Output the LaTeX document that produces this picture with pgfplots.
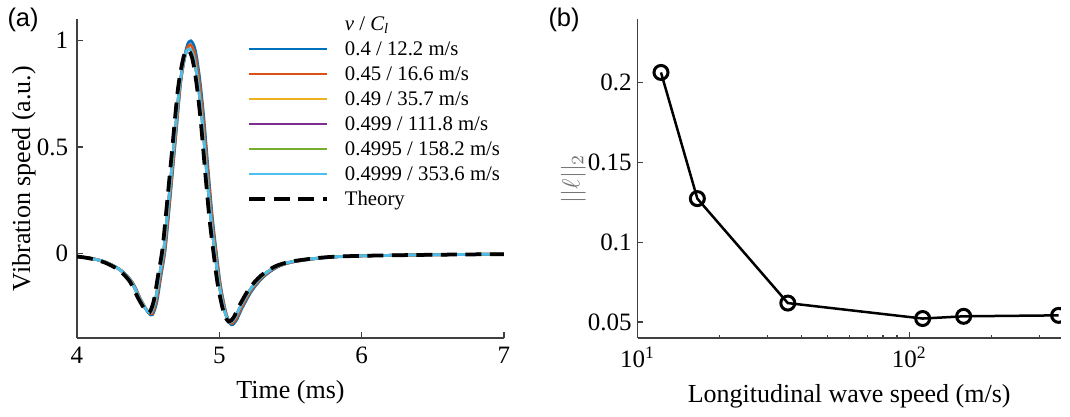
\documentclass[border=0pt]{standalone}
\usepackage{fontspec}
\setmainfont{Liberation Serif}
\setsansfont{Liberation Sans}
\usepackage{pgfplots}
\usepackage{pgfplotstable}
\pgfplotsset{compat=1.18}

\definecolor{mblue}{rgb}{0,0.447,0.741}
\definecolor{morange}{rgb}{0.85,0.325,0.098}
\definecolor{myellow}{rgb}{0.929,0.694,0.125}
\definecolor{mpurple}{rgb}{0.494,0.184,0.556}
\definecolor{mgreen}{rgb}{0.466,0.674,0.188}
\definecolor{mcyan}{rgb}{0.301,0.745,0.933}

% nu = 0.4
\pgfplotstableread{
t v
4.00 -0.014
4.11 -0.023
4.21 -0.042
4.31 -0.078
4.39 -0.135
4.45 -0.218
4.50 -0.276
4.53 -0.286
4.56 -0.229
4.59 -0.104
4.62 0.021
4.65 0.229
4.69 0.520
4.73 0.811
4.77 0.967
4.80 0.998
4.83 0.957
4.86 0.832
4.89 0.645
4.92 0.406
4.95 0.177
4.98 0.000
5.01 -0.156
5.05 -0.286
5.085 -0.333
5.12 -0.312
5.16 -0.255
5.23 -0.172
5.31 -0.109
5.41 -0.062
5.53 -0.037
5.76 -0.018
6.01 -0.010
6.51 -0.005
7.00 -0.002
}\tabA

% nu = 0.45
\pgfplotstableread{
t v
4.00 -0.013
4.107 -0.022
4.207 -0.041
4.307 -0.077
4.387 -0.133
4.447 -0.214
4.497 -0.270
4.527 -0.281
4.557 -0.224
4.587 -0.102
4.617 0.020
4.647 0.224
4.687 0.510
4.727 0.796
4.767 0.949
4.797 0.979
4.827 0.938
4.857 0.816
4.887 0.632
4.917 0.398
4.947 0.173
4.977 0.000
5.007 -0.153
5.047 -0.281
5.082 -0.326
5.117 -0.306
5.157 -0.250
5.227 -0.168
5.307 -0.107
5.407 -0.061
5.527 -0.037
5.757 -0.017
6.007 -0.010
6.507 -0.005
7.00 -0.002
}\tabB

% nu = 0.49 ... 0.4999 (curves coincide)
\pgfplotstableread{
t v
4.00 -0.013
4.10 -0.022
4.20 -0.040
4.30 -0.075
4.38 -0.130
4.44 -0.210
4.49 -0.265
4.52 -0.275
4.55 -0.220
4.58 -0.100
4.61 0.020
4.64 0.220
4.68 0.500
4.72 0.780
4.76 0.930
4.79 0.960
4.82 0.920
4.85 0.800
4.88 0.620
4.91 0.390
4.94 0.170
4.97 0.000
5.00 -0.150
5.04 -0.275
5.075 -0.320
5.11 -0.300
5.15 -0.245
5.22 -0.165
5.30 -0.105
5.40 -0.060
5.52 -0.036
5.75 -0.017
6.00 -0.010
6.50 -0.005
7.00 -0.002
}\tabC

% theory
\pgfplotstableread{
t v
4.00 -0.013
4.09 -0.022
4.19 -0.040
4.29 -0.075
4.37 -0.129
4.43 -0.209
4.48 -0.264
4.51 -0.274
4.54 -0.219
4.57 -0.100
4.60 0.020
4.63 0.219
4.67 0.498
4.71 0.776
4.75 0.925
4.78 0.955
4.81 0.915
4.84 0.796
4.87 0.617
4.90 0.388
4.93 0.169
4.96 0.000
4.99 -0.149
5.03 -0.274
5.065 -0.318
5.10 -0.299
5.14 -0.244
5.21 -0.164
5.29 -0.104
5.39 -0.060
5.51 -0.036
5.74 -0.017
5.99 -0.010
6.49 -0.005
7.00 -0.002
}\tabTh

\pgfplotsset{
  panel/.style={
    scale only axis, height=127.6pt, anchor=south west,
    axis x line*=bottom, axis y line*=left, tick align=inside,
    axis line style={black!75, line width=0.5pt},
    tick style={black!75, line width=0.5pt},
    major tick length=2.4pt, minor tick length=1.4pt,
    tick label style={font=\rmfamily\fontsize{10}{12}\selectfont},
    label style={font=\rmfamily\fontsize{10.4}{12}\selectfont},
    /pgf/number format/assume math mode=true,
  },
  curve/.style={line width=1.1pt, smooth},
}

\begin{document}
\begin{tikzpicture}
\path[use as bounding box] (0pt,0pt) rectangle (428pt,166.4pt);

\begin{axis}[panel, at={(30.8pt,31.2pt)}, width=170.8pt,
  xmin=4, xmax=7, ymin=-0.395, ymax=1.10,
  xtick={4,5,6,7}, ytick={0,0.5,1},
  xlabel={Time (ms)}, ylabel={Vibration speed (a.u.)},
  ylabel shift=-6.4pt,
  legend cell align=left,
  legend style={draw=none, fill=none, at={(rel axis cs:0.398,1.025)}, anchor=north west,
    inner sep=0pt, row sep=0pt, column sep=4.5pt,
    font=\rmfamily\fontsize{8.3}{10}\selectfont,
    nodes={inner ysep=0.6pt, text height=6.8pt, text depth=2pt}},
  legend image code/.code={\draw[#1] (0pt,0pt) -- (31pt,0pt);},
]
\addlegendimage{empty legend}
\addlegendentry{{\itshape ν} / {\itshape C}\textsubscript{\itshape l}}
\addplot[curve, mblue] table[x=t,y=v] {\tabA};
\addlegendentry{0.4 / 12.2 m/s}
\addplot[curve, morange] table[x=t,y=v] {\tabB};
\addlegendentry{0.45 / 16.6 m/s}
\addplot[curve, myellow] table[x=t,y=v] {\tabC};
\addlegendentry{0.49 / 35.7 m/s}
\addplot[curve, mpurple] table[x=t,y=v] {\tabC};
\addlegendentry{0.499 / 111.8 m/s}
\addplot[curve, mgreen] table[x=t,y=v] {\tabC};
\addlegendentry{0.4995 / 158.2 m/s}
\addplot[curve, mcyan] table[x=t,y=v] {\tabC};
\addlegendentry{0.4999 / 353.6 m/s}
\addplot[black, line width=1.5pt, dash pattern=on 6.4pt off 3.4pt, smooth] table[x=t,y=v] {\tabTh};
\addlegendentry{Theory}
\end{axis}

\begin{axis}[panel, xmode=log, at={(255pt,31.2pt)}, width=169.3pt,
  xmin=10, xmax=360, ymin=0.04, ymax=0.24,
  xtick={10,100}, xticklabels={10\textsuperscript{1},10\textsuperscript{2}},
  minor xtick={20,30,40,50,60,70,80,90,200,300},
  ytick={0.05,0.1,0.15,0.2}, yticklabels={0.05,0.1,0.15,0.2},
  yticklabel style={xshift=1.2pt},
  xlabel={Longitudinal wave speed (m/s)}, ylabel={$||\ell||_2$},
  ylabel style={black!55}, ylabel shift=-6pt,
  clip marker paths=true,
]
\addplot[black, line width=1pt, mark=o, mark size=2.8pt, mark options={line width=1.2pt}]
  coordinates {(12.2,0.2065) (16.6,0.1274) (35.7,0.0619) (111.8,0.0522) (158.2,0.0536) (353.6,0.0542)};
\end{axis}

\node[anchor=north west, inner sep=0pt, font=\sffamily\fontsize{10.2}{12}\selectfont] at (2.8pt,163.2pt) {(a)};
\node[anchor=north west, inner sep=0pt, font=\sffamily\fontsize{10.2}{12}\selectfont] at (219.2pt,163.2pt) {(b)};
\end{tikzpicture}
\end{document}
